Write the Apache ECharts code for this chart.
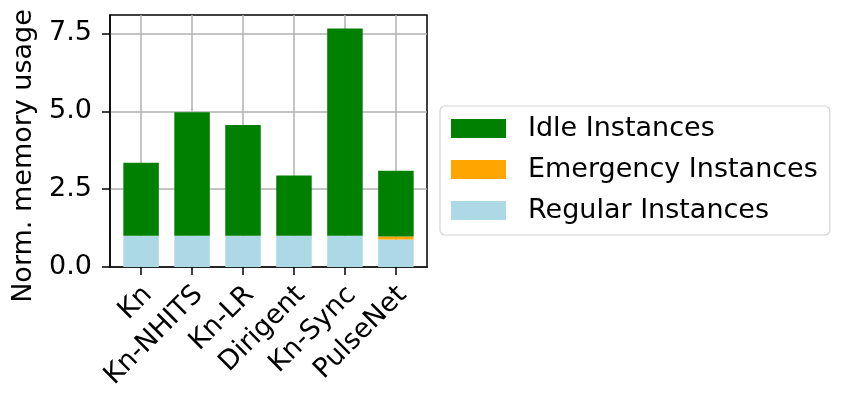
<!DOCTYPE html>
<html>
<head>
<meta charset="utf-8">
<script src="https://cdn.jsdelivr.net/npm/echarts@6/dist/echarts.min.js"></script>
<style>
  html, body { margin: 0; padding: 0; background: #fff; }
  #chart { width: 846px; height: 409px; }
</style>
</head>
<body>
<div id="chart"></div>
<script>
// data
const categories = ['Kn', 'Kn-NHITS', 'Kn-LR', 'Dirigent', 'Kn-Sync', 'PulseNet'];
const regular = [1.0, 1.0, 1.0, 1.0, 1.0, 0.88];
const emergency = [0, 0, 0, 0, 0, 0.1];
const idle = [2.35, 3.97, 3.56, 1.94, 6.66, 2.11];
const yTicks = [0, 2.5, 5, 7.5];

const font = 'DejaVu Sans';
const fs = 27;
const xTicks = categories.map((c, i) => i);

// value first so that stacking goes on the y dimension
function pts(arr) {
    return arr.map((v, i) => [v, i]);
}

const barW = 35.5;

function barSeries(name, color, arr) {
    return {
        name: name, type: 'bar', stack: 'mem',
        barWidth: barW,
        encode: { x: 1, y: 0 },
        itemStyle: { color: color },
        data: pts(arr)
    };
}

const option = {
    animation: false,
    textStyle: { fontFamily: font },
    grid: {
        left: 110, right: 419, top: 15, bottom: 142,
        show: true, borderColor: '#000', borderWidth: 1.5,
        containLabel: false,
        outerBoundsMode: 'none'
    },
    legend: {
        orient: 'vertical',
        left: 440, top: 106,
        data: ['Idle Instances', 'Emergency Instances', 'Regular Instances'],
        icon: 'rect',
        itemWidth: 55, itemHeight: 19,
        itemGap: 14,
        padding: [9, 12, 11, 11],
        borderColor: '#d4d4d4', borderWidth: 1.2, borderRadius: 5,
        textStyle: { fontFamily: font, fontSize: fs, lineHeight: 26, color: '#000', padding: [0, 0, 0, 17] }
    },
    xAxis: {
        type: 'value',
        min: -0.61, max: 5.61,
        axisLine: { show: true, onZero: false, lineStyle: { color: '#000', width: 1.5 } },
        axisTick: { show: true, length: 8, customValues: xTicks, lineStyle: { color: '#000', width: 1.5 } },
        axisLabel: {
            customValues: xTicks,
            rotate: 45,
            margin: 17,
            align: 'right',
            verticalAlign: 'top',
            lineHeight: 19,
            fontFamily: font, fontSize: fs, color: '#000',
            formatter: v => categories[Math.round(v)] || ''
        },
        splitLine: { show: true, lineStyle: { color: '#b0b0b0', width: 1.5 } }
    },
    yAxis: {
        type: 'value',
        min: 0, max: 8.09,
        name: 'Norm. memory usage',
        nameLocation: 'middle',
        nameGap: 73,
        nameTextStyle: { fontFamily: font, fontSize: fs, color: '#000', padding: [0, 30, 0, 0] },
        axisLine: { show: true, onZero: false, lineStyle: { color: '#000', width: 1.5 } },
        axisTick: { show: true, length: 8, customValues: yTicks, lineStyle: { color: '#000', width: 1.5 } },
        axisLabel: {
            customValues: yTicks,
            margin: 18,
            fontFamily: font, fontSize: fs, color: '#000',
            formatter: v => v.toFixed(1)
        },
        splitLine: { show: true, lineStyle: { color: '#b0b0b0', width: 1.5 } }
    },
    series: [
        barSeries('Regular Instances', '#add8e6', regular),
        barSeries('Emergency Instances', '#ffa500', emergency),
        barSeries('Idle Instances', '#008000', idle)
    ]
};

const chart = echarts.init(document.getElementById('chart'), null, { renderer: 'canvas' });
chart.setOption(option);
</script>
</body>
</html>
